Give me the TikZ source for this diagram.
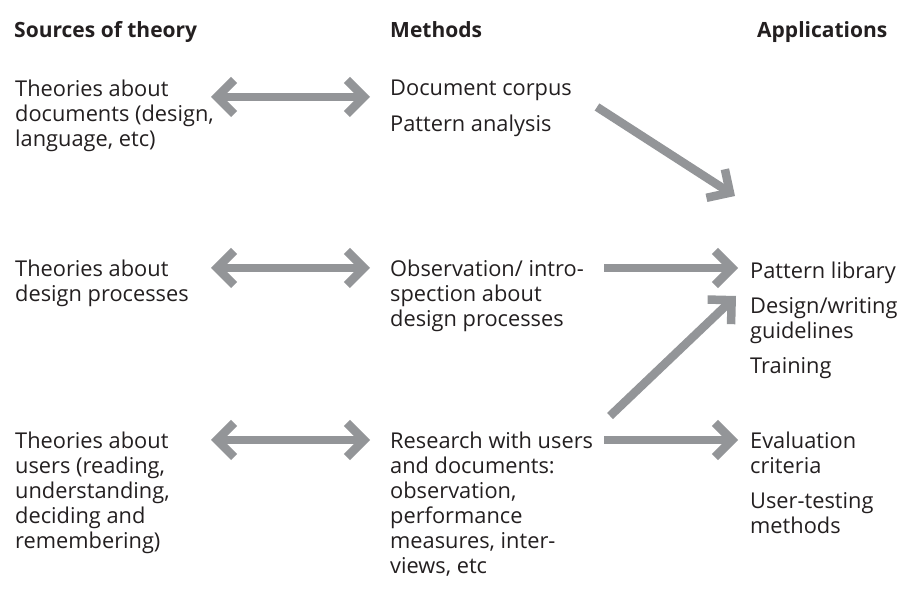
\documentclass[tikz,border=0pt]{standalone}
\usepackage{fontspec}
\setmainfont{Open Sans}
\usetikzlibrary{arrows.meta}
\definecolor{arrowgray}{RGB}{147,149,152}
\definecolor{ink}{RGB}{35,31,32}
\begin{document}
\begin{tikzpicture}[x=1pt,y=-1pt,
  txt/.style={anchor=north west,inner sep=0pt,align=left,text=ink,font=\fontsize{21.8}{25}\selectfont},
  head/.style={anchor=north west,inner sep=0pt,text=ink,font=\fontsize{21}{24}\selectfont\bfseries},
  barb/.tip={Straight Barb[sharp,length=17pt,width=34pt]},
  conn/.style={draw=arrowgray,line width=8.5pt,-barb},
  biconn/.style={draw=arrowgray,line width=8.5pt,barb-barb}]
\useasboundingbox (0,0) rectangle (906,601);

% headers
\node[head] (h1) at (14,21) {Sources of theory};
\node[head] (h2) at (390,21) {Methods};
\node[head] (h3) at (757,21) {Applications};

% sources
\node[txt] (s1) at (15,80) {Theories about\\documents (design,\\language, etc)};
\node[txt] (s2) at (15,260) {Theories about\\design processes};
\node[txt] (s3) at (15,432) {Theories about\\users (reading,\\understanding,\\deciding and\\remembering)};

% methods
\node[txt] (m1) at (390,80) {Document corpus\\[11pt]Pattern analysis};
\node[txt] (m2) at (390,260) {Observation/ intro-\\spection about\\design processes};
\node[txt] (m3) at (390,432) {Research with users\\and documents:\\observation,\\performance\\measures, inter-\\views, etc};

% applications
\node[txt] (a1) at (750,262) {Pattern library\\[10pt]Design/writing\\guidelines\\[10pt]Training};
\node[txt] (a2) at (750,432) {Evaluation\\criteria\\[10pt]User-testing\\methods};

% arrow end points
\coordinate (s1r) at (211,97);  \coordinate (m1l) at (370,97);
\coordinate (s2r) at (211,268); \coordinate (m2l) at (370,268);
\coordinate (s3r) at (211,440); \coordinate (m3l) at (370,440);
\coordinate (m1r) at (597,107); \coordinate (a1d) at (735,196);
\coordinate (m2r) at (604,268); \coordinate (a1l) at (738,268);
\coordinate (m3d) at (610,416); \coordinate (a1u) at (736,296);
\coordinate (m3r) at (604,440); \coordinate (a2l) at (738,440);

\draw[biconn] (s1r) -- (m1l);
\draw[biconn] (s2r) -- (m2l);
\draw[biconn] (s3r) -- (m3l);
\draw[conn] (m1r) -- (a1d);
\draw[conn] (m2r) -- (a1l);
\draw[conn] (m3d) -- (a1u);
\draw[conn] (m3r) -- (a2l);
\end{tikzpicture}
\end{document}
